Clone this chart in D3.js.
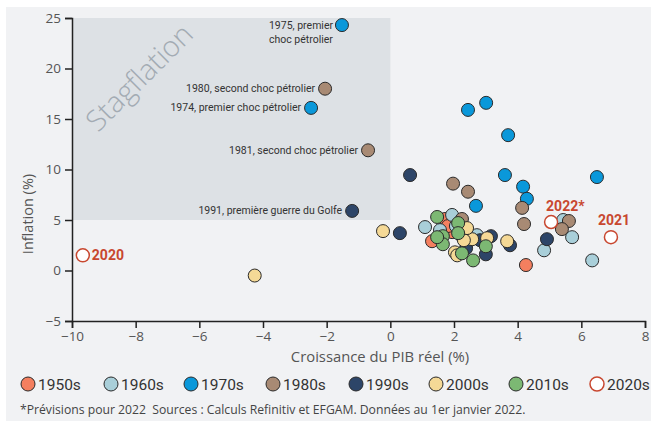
<!DOCTYPE html>
<html lang="fr">
<head>
<meta charset="utf-8">
<script src="https://d3js.org/d3.v7.min.js"></script>
<style>
  body { margin: 0; background: #fff; }
  svg { font-family: Roboto, "Noto Sans", sans-serif; display: block; }
  .axis text { fill: #555; font-size: 13.5px; font-family: "Open Sans", sans-serif; }
  .axis path, .axis line { stroke: #222; stroke-width: 1.5px; }
</style>
</head>
<body>
<svg width="651" height="421"></svg>
<script>
// [croissance PIB, inflation] par décennie
const s1950 = [[4.26, 0.54], [1.72, 5.1], [1.31, 2.9], [1.94, 3.8], [1.81, 4.4], [2.25, 3.4]];
const s1960 = [[1.09, 4.3], [1.94, 5.5], [1.56, 4.0], [2.72, 3.5], [4.83, 2.0], [5.71, 3.3], [6.34, 1.0], [5.43, 5.0], [2.5, 3.0], [2.06, 4.4]];
const s1970 = [[-1.52, 24.3], [-2.49, 16.1], [2.44, 15.9], [3.01, 16.6], [3.7, 13.4], [3.6, 9.45], [4.17, 8.3], [4.29, 7.1], [2.69, 6.4], [6.49, 9.25]];
const s1980 = [[-2.05, 18.0], [-0.70, 11.9], [1.97, 8.6], [2.44, 7.8], [4.14, 6.2], [4.2, 4.6], [5.61, 4.9], [5.39, 4.1], [2.25, 5.1]];
const s1990 = [[-1.2, 5.9], [0.62, 9.45], [0.3, 3.7], [4.92, 3.1], [3.76, 2.5], [3.16, 3.4], [3.0, 1.6], [2.38, 2.2], [2.82, 3.0]];
const s2000 = [[-4.26, -0.5], [-0.23, 3.9], [3.67, 2.9], [2.57, 3.1], [2.31, 3.0], [3.04, 3.2], [2.03, 1.8], [2.1, 1.5], [2.41, 4.2]];
const s2010 = [[1.47, 5.3], [2.13, 4.7], [2.13, 3.7], [1.65, 3.4], [1.65, 2.6], [3.0, 2.4], [2.25, 1.7], [2.6, 1.0], [1.47, 3.3]];
const s2020 = [[-9.66, 1.5], [6.93, 3.3], [5.05, 4.8]];
const years2020 = ["2020", "2021", "2022*"];

const decades = ["1950s", "1960s", "1970s", "1980s", "1990s", "2000s", "2010s", "2020s"];
const series = [s1950, s1960, s1970, s1980, s1990, s2000, s2010, s2020];
const fills = ["#f47f5f", "#a9cfd9", "#0a98da", "#a88a74", "#2d4568", "#f5d996", "#7cb873", "#ffffff"];

// annotations : [décennie, index du point, texte]
const notes = [
  [2, 0, ["1975, premier", "choc pétrolier"]],
  [3, 0, ["1980, second choc pétrolier"]],
  [2, 1, ["1974, premier choc pétrolier"]],
  [3, 1, ["1981, second choc pétrolier"]],
  [4, 0, ["1991, première guerre du Golfe"]]
];

const xTicks = [-10, -8, -6, -4, -2, 0, 2, 4, 6, 8];
const yTicks = [-5, 0, 5, 10, 15, 20, 25];

const svg = d3.select("svg");
const x = d3.scaleLinear().domain([-10, 8]).range([72, 645]);
const y = d3.scaleLinear().domain([-5, 25]).range([321, 18]);
const red = "#c8472f";

// fond
svg.append("rect").attr("x", 6).attr("y", 7).attr("width", 645).attr("height", 414).attr("fill", "#f1f2f4");

// zone stagflation
svg.append("rect")
  .attr("x", x(-10)).attr("y", y(25))
  .attr("width", x(0) - x(-10)).attr("height", y(5) - y(25))
  .attr("fill", "#dde1e5");
svg.append("text")
  .attr("transform", "translate(141,79) rotate(-45)")
  .attr("text-anchor", "middle").attr("dominant-baseline", "middle")
  .attr("font-size", 29).attr("font-weight", 300).attr("fill", "#a3abb3")
  .attr("font-family", "'Open Sans', sans-serif")
  .text("Stagflation");

// axes
svg.append("g").attr("class", "axis")
  .attr("transform", "translate(0," + y(-5) + ")")
  .call(d3.axisBottom(x).tickValues(xTicks).tickSizeOuter(0).tickSize(7).tickPadding(3));
svg.append("g").attr("class", "axis")
  .attr("transform", "translate(" + x(-10) + ",0)")
  .call(d3.axisLeft(y).tickValues(yTicks).tickSizeOuter(0).tickSize(7).tickPadding(4));

svg.append("text").attr("x", 380).attr("y", 362).attr("text-anchor", "middle")
  .attr("font-family", "'Open Sans', sans-serif")
  .attr("font-size", 14.8).attr("fill", "#555").text("Croissance du PIB réel (%)");
svg.append("text").attr("transform", "translate(33,214) rotate(-90)").attr("text-anchor", "middle")
  .attr("font-family", "'Open Sans', sans-serif")
  .attr("font-size", 14.5).attr("fill", "#555").text("Inflation (%)");

// points
series.forEach(function (data, i) {
  svg.append("g").selectAll("circle").data(data).enter().append("circle")
    .attr("cx", d => x(d[0])).attr("cy", d => y(d[1])).attr("r", 6.5)
    .attr("fill", fills[i])
    .attr("stroke", i === 7 ? red : "#2a2a2a")
    .attr("stroke-width", i === 7 ? 1.5 : 1);
});

// annotations
notes.forEach(function (n) {
  const p = series[n[0]][n[1]];
  const t = svg.append("text").attr("font-size", 10.5).attr("fill", "#333");
  if (n[2].length > 1) {
    t.attr("text-anchor", "start");
    n[2].forEach((line, k) => t.append("tspan").attr("x", x(p[0]) - 73).attr("y", y(p[1]) + 3.5 + k * 14).text(line));
  } else {
    t.attr("text-anchor", "end").attr("x", x(p[0]) - 10).attr("y", y(p[1]) + 3.5).text(n[2][0]);
  }
});

// étiquettes 2020s
const yrOffsets = [[9, 5], [-13, -12], [-5, -11]];
s2020.forEach(function (p, i) {
  svg.append("text")
    .attr("x", x(p[0]) + yrOffsets[i][0]).attr("y", y(p[1]) + yrOffsets[i][1])
    .attr("font-size", 14).attr("font-weight", 700).attr("fill", red)
    .text(years2020[i]);
});

// légende
const legX = [28, 111, 191, 273, 356, 436, 516, 597];
const leg = svg.append("g");
decades.forEach(function (d, i) {
  leg.append("circle").attr("cx", legX[i]).attr("cy", 384).attr("r", 7)
    .attr("fill", fills[i]).attr("stroke", i === 7 ? red : "#2a2a2a").attr("stroke-width", i === 7 ? 1.5 : 1);
  leg.append("text").attr("x", legX[i] + 10).attr("y", 389.5).attr("font-size", 15.5).attr("fill", "#333").text(d);
});

svg.append("text").attr("x", 20).attr("y", 414).attr("font-size", 12.2).attr("fill", "#444")
  .attr("font-family", "'Open Sans', sans-serif")
  .attr("xml:space", "preserve")
  .text("*Prévisions pour 2022  Sources : Calculs Refinitiv et EFGAM. Données au 1er janvier 2022.");
</script>
</body>
</html>
